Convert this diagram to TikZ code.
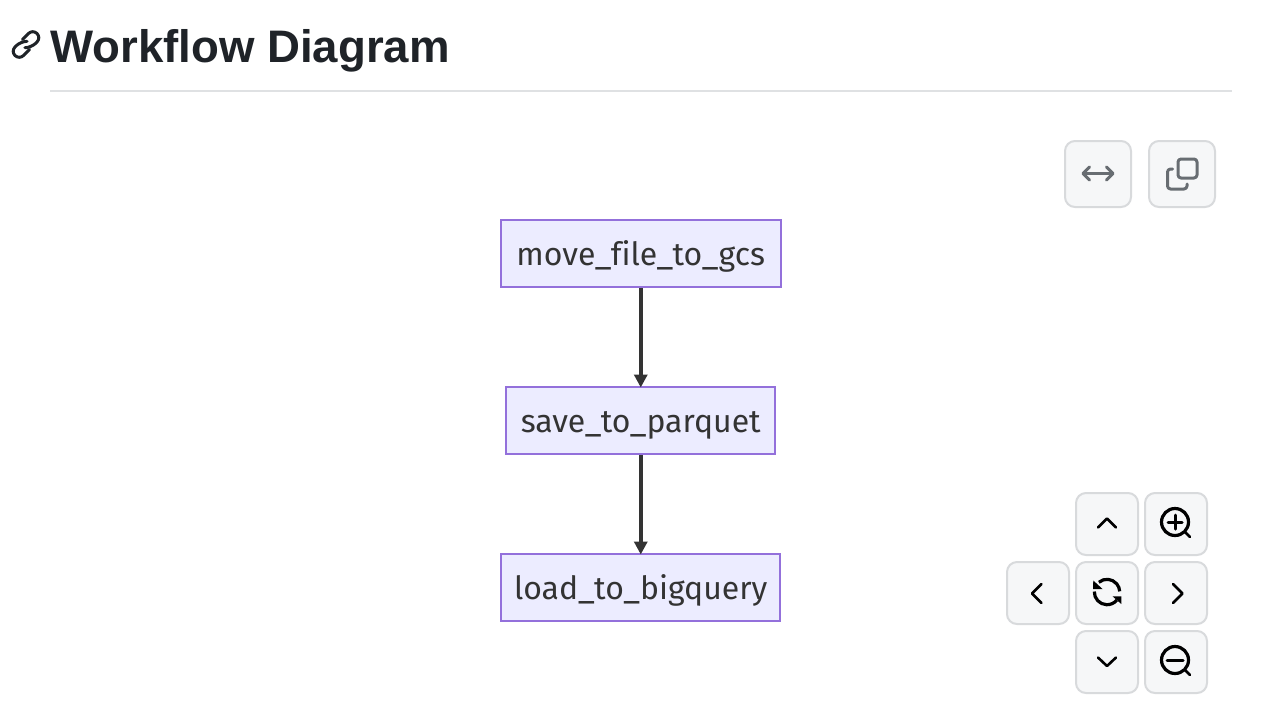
\documentclass[tikz,border=0pt]{standalone}
\usepackage{fontspec}
\usetikzlibrary{arrows.meta}
\setmainfont{Liberation Sans}
\newfontfamily\labelfont[Ligatures=NoCommon]{Fira Sans}
\definecolor{inkdark}{HTML}{1F2328}
\definecolor{rulegrey}{HTML}{DFE1E3}
\definecolor{btnfill}{HTML}{F6F7F8}
\definecolor{btnline}{HTML}{D8DADC}
\definecolor{icongrey}{HTML}{686D72}
\definecolor{boxfill}{HTML}{ECECFF}
\definecolor{boxline}{HTML}{9370DB}
\definecolor{edgecol}{HTML}{333333}
\tikzset{
  x=1pt,y=-1pt,
  flowbox/.style={draw=boxline,fill=boxfill,line width=2pt,inner sep=0pt,minimum height=67pt,
    text=edgecol,font=\labelfont\fontsize{32}{32}\selectfont,text height=27.5pt,text depth=4.5pt},
  flowedge/.style={draw=edgecol,line width=4pt,shorten >=-1.5pt,-{Triangle[length=13pt,width=13pt]}},
  bigbtn/.style={draw=btnline,fill=btnfill,line width=2pt,rounded corners=10pt,minimum width=66pt,minimum height=66pt,inner sep=0pt},
  navbtn/.style={draw=btnline,fill=btnfill,line width=2pt,rounded corners=10pt,minimum width=62pt,minimum height=62pt,inner sep=0pt},
  greyicon/.style={draw=icongrey,line width=3pt,line cap=round,line join=round},
  navicon/.style={draw=black,line width=2.6pt,line cap=round,line join=round},
}
\begin{document}
\begin{tikzpicture}
\useasboundingbox (0,0) rectangle (1268,713);
\fill[white] (0,0) rectangle (1268,713);
% heading
\node[anchor=base west,inner sep=0pt,text=inkdark,font=\bfseries\fontsize{45.6}{46}\selectfont] (title) at (50,62.5) {Workflow Diagram};
\coordinate (ruleL) at (50,91);
\coordinate (ruleR) at (1232,91);
\draw[rulegrey,line width=2pt] (ruleL) -- (ruleR);
% link icon
\begin{scope}[shift={(26,44.5)},rotate=45,draw=inkdark,line width=3pt,line cap=round,line join=round]
  \draw[rounded corners=5.8pt] (1,-6) -- (15.5,-6) -- (15.5,6) -- (2,6) -- (-3,1.5);
  \draw[rounded corners=5.8pt] (-1,6) -- (-15.5,6) -- (-15.5,-6) -- (-2,-6) -- (3,-1.5);
\end{scope}
% flow nodes
\node[flowbox,minimum width=280pt] (move) at (640.75,253.5) {move\_file\_to\_gcs};
\node[flowbox,minimum width=269pt] (save) at (640.75,420.5) {save\_to\_parquet};
\node[flowbox,minimum width=279pt] (load) at (640.75,587.5) {load\_to\_bigquery};
\draw[flowedge] (move.south) -- (save.north);
\draw[flowedge] (save.south) -- (load.north);
% top buttons
\node[bigbtn] (fit) at (1098,174) {};
\node[bigbtn] (copy) at (1182,174) {};
\draw[greyicon] (1084,173.5) -- (1112,173.5);
\draw[greyicon] (1089.5,167) -- (1083,173.5) -- (1089.5,180);
\draw[greyicon] (1106.5,167) -- (1113,173.5) -- (1106.5,180);
\draw[greyicon,rounded corners=3pt] (1178,159) rectangle (1197,178);
\draw[greyicon,rounded corners=3pt] (1172.5,169) -- (1167.5,169) -- (1167.5,189) -- (1187,189) -- (1187,184);
% navigation buttons
\node[navbtn] (up) at (1107,524) {};
\node[navbtn] (zin) at (1176,524) {};
\node[navbtn] (left) at (1038,593) {};
\node[navbtn] (reset) at (1107,593) {};
\node[navbtn] (right) at (1176,593) {};
\node[navbtn] (down) at (1107,662) {};
\node[navbtn] (zout) at (1176,662) {};
\draw[navicon] (1098,527.5) -- (1107,518.5) -- (1116,527.5);
\draw[navicon] (1098,657.5) -- (1107,666) -- (1116,657.5);
\draw[navicon] (1041.5,584) -- (1032,593.5) -- (1041.5,603);
\draw[navicon] (1173,584) -- (1182.5,593.5) -- (1173,603);
% zoom in
\draw[navicon,line width=3.2pt] (1175,522) circle (13.5pt);
\draw[navicon] (1185,532) -- (1190,537);
\draw[navicon,line width=3pt] (1168,522) -- (1182,522);
\draw[navicon,line width=3pt] (1175,515) -- (1175,529);
% zoom out
\draw[navicon,line width=3.2pt] (1175,660) circle (13.5pt);
\draw[navicon] (1185,670) -- (1190,675);
\draw[navicon,line width=3pt] (1167,660) -- (1183,660);
% reset
\draw[navicon,line width=3.2pt,line cap=butt] (1107,592) ++(130:12.7pt) arc[start angle=130,end angle=3,radius=12.7pt];
\draw[navicon,line width=3.2pt,line cap=butt] (1107,592) ++(178:12.7pt) arc[start angle=178,end angle=320,radius=12.7pt];
\fill[black] (1093.3,580.5) -- (1102.5,589) -- (1093,589) -- cycle;
\fill[black] (1121.3,604) -- (1112.5,596.3) -- (1121.3,596.3) -- cycle;
\end{tikzpicture}
\end{document}
